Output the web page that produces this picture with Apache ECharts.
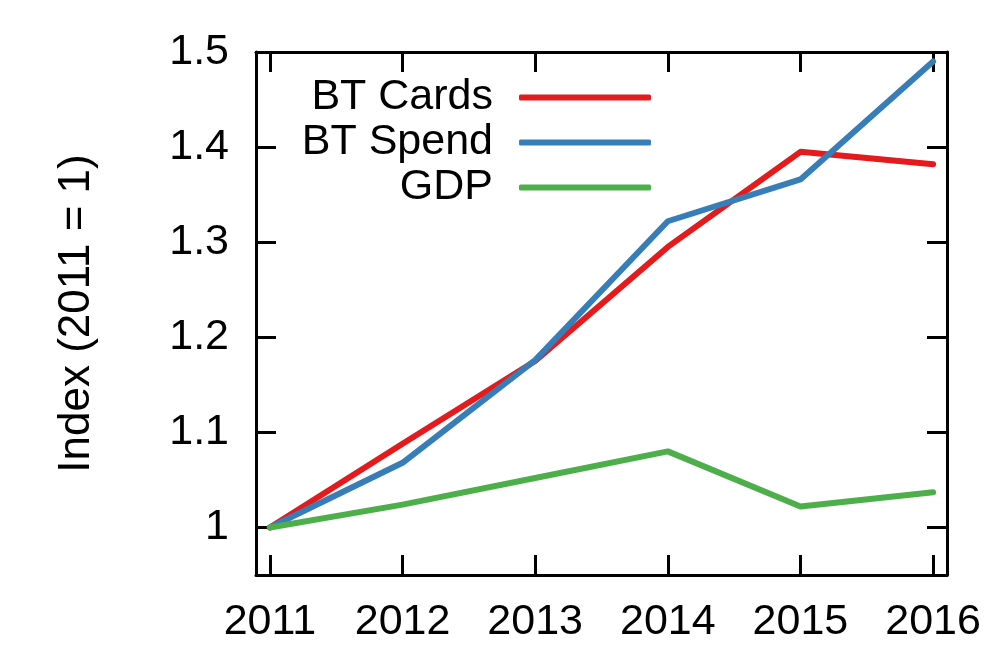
<!DOCTYPE html>
<html>
<head>
<meta charset="utf-8">
<script src="https://cdn.jsdelivr.net/npm/echarts@6/dist/echarts.min.js"></script>
<style>html,body{margin:0;padding:0;background:#fff}#c{width:1000px;height:667px}</style>
</head>
<body>
<div id="c"></div>
<script>
const years = [2011, 2012, 2013, 2014, 2015, 2016];
const btCards = [1.000, 1.088, 1.175, 1.295, 1.395, 1.382];
const btSpend = [1.000, 1.068, 1.176, 1.322, 1.366, 1.490];
const gdp = [1.000, 1.024, 1.052, 1.080, 1.022, 1.037];
const yTicks = [1.0, 1.1, 1.2, 1.3, 1.4, 1.5];
const yTickLabels = ['1', '1.1', '1.2', '1.3', '1.4', '1.5'];
const seriesNames = ['BT Cards', 'BT Spend', 'GDP'];
const colors = ['#e41a1c', '#377eb8', '#4daf4a'];

const font = 'Liberation Sans, Arial, Helvetica, sans-serif';
const chart = echarts.init(document.getElementById('c'), null, {renderer: 'canvas'});
const pair = arr => years.map((y, i) => [y, arr[i]]);
const frame = {show: true, lineStyle: {color: '#000', width: 3}};
const tick = {show: true, inside: true, length: 20, lineStyle: {color: '#000', width: 3}};

chart.setOption({
  animation: false,
  backgroundColor: '#fff',
  grid: {left: 256, right: 53, top: 52, bottom: 92},
  legend: {
    orient: 'vertical',
    left: 293, top: 70,
    align: 'right',
    itemWidth: 132, itemHeight: 6, itemGap: 0,
    icon: 'roundRect',
    data: seriesNames,
    textStyle: {fontFamily: font, fontSize: 43, color: '#000', width: 195, align: 'right', lineHeight: 45, padding: [0, 21, 0, 0]}
  },
  xAxis: [{
    type: 'value', min: 2010.895, max: 2016.105,
    axisLine: frame, axisTick: Object.assign({customValues: years}, tick),
    splitLine: {show: false},
    axisLabel: {customValues: years, fontFamily: font, fontSize: 43, color: '#000', margin: 26, formatter: v => String(v)}
  }, {
    type: 'value', position: 'top', min: 2010.895, max: 2016.105,
    axisLine: frame, axisTick: Object.assign({customValues: years}, tick),
    splitLine: {show: false}, axisLabel: {show: false}
  }],
  yAxis: [{
    type: 'value', min: 0.95, max: 1.5,
    name: 'Index (2011 = 1)', nameLocation: 'middle', nameGap: 157,
    nameTextStyle: {fontFamily: font, fontSize: 44, color: '#000'},
    axisLine: frame, axisTick: Object.assign({customValues: yTicks}, tick),
    splitLine: {show: false},
    axisLabel: {customValues: yTicks, fontFamily: font, fontSize: 43, color: '#000', margin: 27,
      formatter: v => yTickLabels[yTicks.findIndex(t => Math.abs(t - v) < 1e-9)]}
  }, {
    type: 'value', position: 'right', min: 0.95, max: 1.5,
    axisLine: frame, axisTick: Object.assign({customValues: yTicks}, tick),
    splitLine: {show: false}, axisLabel: {show: false}
  }],
  series: [btCards, btSpend, gdp].map((d, i) => ({
    name: seriesNames[i], type: 'line', data: pair(d),
    showSymbol: false, symbol: 'none',
    lineStyle: {color: colors[i], width: 6, cap: 'round', join: 'round'},
    itemStyle: {color: colors[i]}
  }))
});
</script>
</body>
</html>
